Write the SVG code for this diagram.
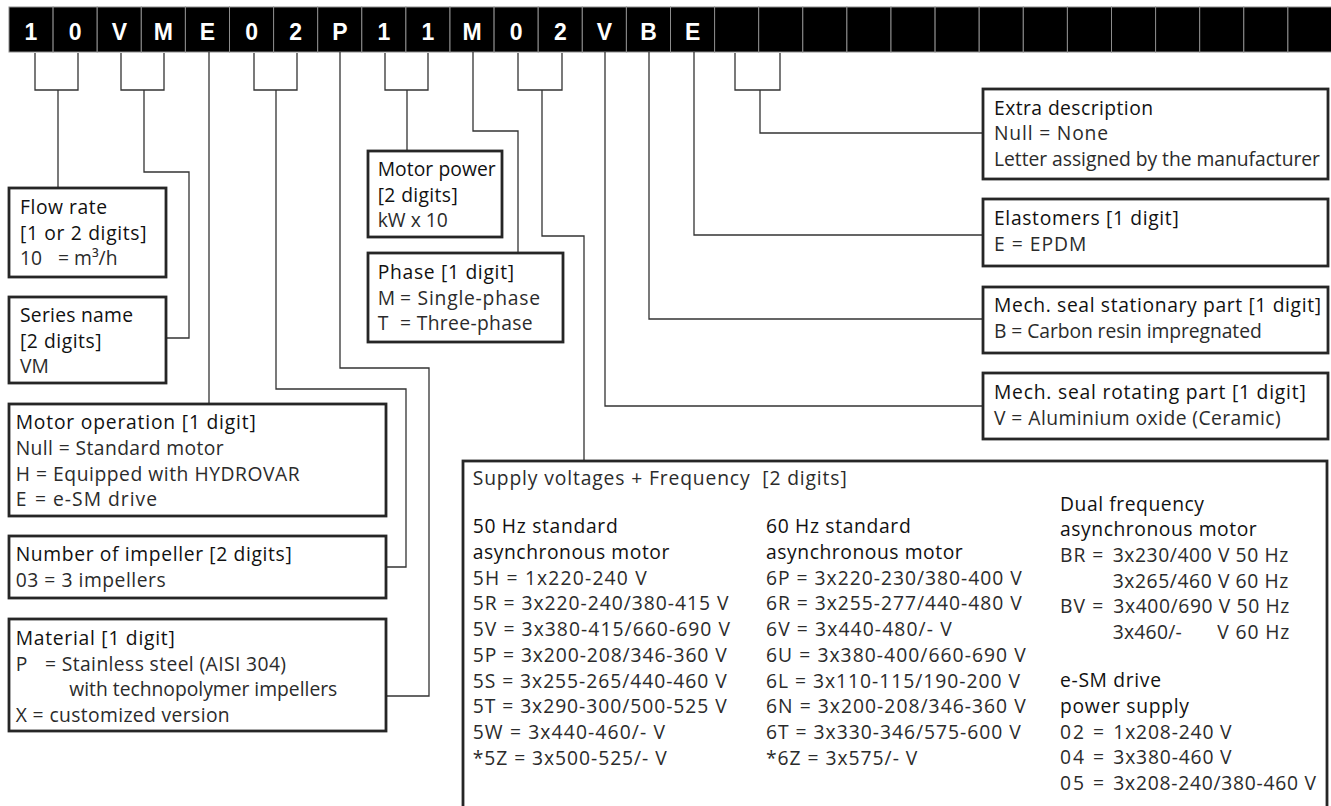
<svg xmlns="http://www.w3.org/2000/svg" width="1331" height="806" viewBox="0 0 1331 806">
<style>
.cell{fill:#000;stroke:#8c8c8c;stroke-width:1}
.ch{font-family:"Liberation Sans",Arial,sans-serif;font-weight:bold;font-size:23px;fill:#fff;text-anchor:middle}
.box{fill:#fff;stroke:#262626;stroke-width:2.8}
.ln{fill:none;stroke:#333;stroke-width:1.3}
.h{font-family:"Open Sans","Noto Sans",sans-serif;font-size:19.3px;fill:#111;font-weight:500}
.c{font-family:"Open Sans","Noto Sans",sans-serif;font-size:19.3px;fill:#2b2b2b;font-weight:400}
</style>
<g id="codebar">
<rect class="cell" x="9" y="7" width="44.1" height="45"/><rect class="cell" x="53.1" y="7" width="44.1" height="45"/><rect class="cell" x="97.2" y="7" width="44.1" height="45"/><rect class="cell" x="141.3" y="7" width="44.1" height="45"/><rect class="cell" x="185.4" y="7" width="44.1" height="45"/><rect class="cell" x="229.5" y="7" width="44.1" height="45"/><rect class="cell" x="273.6" y="7" width="44.1" height="45"/><rect class="cell" x="317.7" y="7" width="44.1" height="45"/><rect class="cell" x="361.8" y="7" width="44.1" height="45"/><rect class="cell" x="405.9" y="7" width="44.1" height="45"/><rect class="cell" x="450" y="7" width="44.1" height="45"/><rect class="cell" x="494.1" y="7" width="44.1" height="45"/><rect class="cell" x="538.2" y="7" width="44.1" height="45"/><rect class="cell" x="582.3" y="7" width="44.1" height="45"/><rect class="cell" x="626.4" y="7" width="44.1" height="45"/><rect class="cell" x="670.5" y="7" width="44.1" height="45"/><rect class="cell" x="714.6" y="7" width="44.1" height="45"/><rect class="cell" x="758.7" y="7" width="44.1" height="45"/><rect class="cell" x="802.8" y="7" width="44.1" height="45"/><rect class="cell" x="846.9" y="7" width="44.1" height="45"/><rect class="cell" x="891" y="7" width="44.1" height="45"/><rect class="cell" x="935.1" y="7" width="44.1" height="45"/><rect class="cell" x="979.2" y="7" width="44.1" height="45"/><rect class="cell" x="1023.3" y="7" width="44.1" height="45"/><rect class="cell" x="1067.4" y="7" width="44.1" height="45"/><rect class="cell" x="1111.5" y="7" width="44.1" height="45"/><rect class="cell" x="1155.6" y="7" width="44.1" height="45"/><rect class="cell" x="1199.7" y="7" width="44.1" height="45"/><rect class="cell" x="1243.8" y="7" width="44.1" height="45"/><rect class="cell" x="1287.9" y="7" width="44.1" height="45"/>
<text class="ch" x="31" y="39.5">1</text><text class="ch" x="75.2" y="39.5">0</text><text class="ch" x="119.3" y="39.5">V</text><text class="ch" x="163.4" y="39.5">M</text><text class="ch" x="207.5" y="39.5">E</text><text class="ch" x="251.6" y="39.5">0</text><text class="ch" x="295.7" y="39.5">2</text><text class="ch" x="339.8" y="39.5">P</text><text class="ch" x="383.9" y="39.5">1</text><text class="ch" x="428" y="39.5">1</text><text class="ch" x="472.1" y="39.5">M</text><text class="ch" x="516.2" y="39.5">0</text><text class="ch" x="560.3" y="39.5">2</text><text class="ch" x="604.4" y="39.5">V</text><text class="ch" x="648.5" y="39.5">B</text><text class="ch" x="692.6" y="39.5">E</text>
</g>
<g id="connectors">
<path class="ln" d="M35,53V90H78V53M58,90V188"/>
<path class="ln" d="M121,53V90H164V53M144,90V172H189V338H166"/>
<path class="ln" d="M209,52V404"/>
<path class="ln" d="M254,53V90H297V53M276,90V389H406V567H386"/>
<path class="ln" d="M340,52V368H429V696H386"/>
<path class="ln" d="M385,53V90H428V53M407,90V151"/>
<path class="ln" d="M473,52V131H518V253"/>
<path class="ln" d="M518,53V90H562V53M542,90V236H584V461"/>
<path class="ln" d="M605,52V406H983"/>
<path class="ln" d="M649,52V319H983"/>
<path class="ln" d="M694,52V235H983"/>
<path class="ln" d="M735,53V90H780V53M760,90V133H983"/>
</g>
<g id="flow-rate">
<rect class="box" x="9" y="188" width="157" height="89"/>
<text class="h" x="20" y="214" textLength="87" lengthAdjust="spacing">Flow rate</text>
<text class="h" x="20" y="240" textLength="126.5" lengthAdjust="spacing">[1 or 2 digits]</text>
<text class="c" x="20" y="265">10</text>
<text class="c" x="58" y="265">= m³/h</text>
</g>
<g id="series-name">
<rect class="box" x="9" y="297" width="157" height="86"/>
<text class="h" x="20" y="322" textLength="113" lengthAdjust="spacing">Series name</text>
<text class="h" x="20" y="348" textLength="81.5" lengthAdjust="spacing">[2 digits]</text>
<text class="c" x="20" y="373">VM</text>
</g>
<g id="motor-operation">
<rect class="box" x="9" y="404" width="377" height="112"/>
<text class="h" x="15.7" y="429" textLength="240" lengthAdjust="spacing">Motor operation [1 digit]</text>
<text class="c" x="15.7" y="455" textLength="208" lengthAdjust="spacing">Null = Standard motor</text>
<text class="c" x="15.7" y="480.5" textLength="284" lengthAdjust="spacing">H = Equipped with HYDROVAR</text>
<text class="c" x="15.7" y="506">E</text>
<text class="c" x="35" y="506" textLength="122" lengthAdjust="spacing">= e-SM drive</text>
</g>
<g id="impellers">
<rect class="box" x="9" y="536" width="377" height="62"/>
<text class="h" x="15.7" y="561" textLength="276" lengthAdjust="spacing">Number of impeller [2 digits]</text>
<text class="c" x="15.7" y="586.5" textLength="150" lengthAdjust="spacing">03 = 3 impellers</text>
</g>
<g id="material">
<rect class="box" x="9" y="619" width="377" height="112"/>
<text class="h" x="15.7" y="645" textLength="159" lengthAdjust="spacing">Material [1 digit]</text>
<text class="c" x="15.7" y="670.5">P</text>
<text class="c" x="45" y="670.5" textLength="241" lengthAdjust="spacing">= Stainless steel (AISI 304)</text>
<text class="c" x="69.3" y="696" textLength="268" lengthAdjust="spacing">with technopolymer impellers</text>
<text class="c" x="15.7" y="721.5" textLength="214" lengthAdjust="spacing">X = customized version</text>
</g>
<g id="motor-power">
<rect class="box" x="368" y="151" width="134" height="86"/>
<text class="h" x="377.7" y="176" textLength="118" lengthAdjust="spacing">Motor power</text>
<text class="h" x="377.7" y="201.5" textLength="80" lengthAdjust="spacing">[2 digits]</text>
<text class="c" x="377.7" y="227">kW x 10</text>
</g>
<g id="phase">
<rect class="box" x="368" y="253" width="195" height="89"/>
<text class="h" x="377.7" y="279" textLength="136.3" lengthAdjust="spacing">Phase [1 digit]</text>
<text class="c" x="377.7" y="304.5">M</text>
<text class="c" x="400" y="304.5" textLength="140" lengthAdjust="spacing">= Single-phase</text>
<text class="c" x="377.7" y="330">T</text>
<text class="c" x="400" y="330" textLength="132.7" lengthAdjust="spacing">= Three-phase</text>
</g>
<g id="extra-description">
<rect class="box" x="983" y="89" width="345" height="90"/>
<text class="h" x="994" y="114.5" textLength="159" lengthAdjust="spacing">Extra description</text>
<text class="c" x="994" y="140" textLength="114" lengthAdjust="spacing">Null = None</text>
<text class="c" x="994" y="165.5" textLength="326" lengthAdjust="spacing">Letter assigned by the manufacturer</text>
</g>
<g id="elastomers">
<rect class="box" x="983" y="199" width="345" height="67"/>
<text class="h" x="994" y="225" textLength="184.7" lengthAdjust="spacing">Elastomers [1 digit]</text>
<text class="c" x="994" y="250.5" textLength="92.3" lengthAdjust="spacing">E = EPDM</text>
</g>
<g id="seal-stationary">
<rect class="box" x="983" y="287" width="345" height="66"/>
<text class="h" x="994" y="312" textLength="327" lengthAdjust="spacing">Mech. seal stationary part [1 digit]</text>
<text class="c" x="994" y="337.5" textLength="267.7" lengthAdjust="spacing">B = Carbon resin impregnated</text>
</g>
<g id="seal-rotating">
<rect class="box" x="983" y="373" width="345" height="66"/>
<text class="h" x="994" y="399" textLength="311.7" lengthAdjust="spacing">Mech. seal rotating part [1 digit]</text>
<text class="c" x="994" y="424.5" textLength="286.7" lengthAdjust="spacing">V = Aluminium oxide (Ceramic)</text>
</g>
<g id="supply">
<rect class="box" x="463" y="461" width="864" height="370"/>
<text class="c" x="472.7" y="485" xml:space="preserve" textLength="374" lengthAdjust="spacing">Supply voltages + Frequency  [2 digits]</text>
<text class="h" x="472.7" y="533.3" textLength="145" lengthAdjust="spacing">50 Hz standard</text>
<text class="h" x="472.7" y="559" textLength="196.7" lengthAdjust="spacing">asynchronous motor</text>
<text class="c" x="472.7" y="584.7" textLength="174" lengthAdjust="spacing">5H = 1x220-240 V</text>
<text class="c" x="472.7" y="610.4" textLength="255.7" lengthAdjust="spacing">5R = 3x220-240/380-415 V</text>
<text class="c" x="472.7" y="636" textLength="257.3" lengthAdjust="spacing">5V = 3x380-415/660-690 V</text>
<text class="c" x="472.7" y="661.8" textLength="254" lengthAdjust="spacing">5P = 3x200-208/346-360 V</text>
<text class="c" x="472.7" y="687.5" textLength="254" lengthAdjust="spacing">5S = 3x255-265/440-460 V</text>
<text class="c" x="472.7" y="713.2" textLength="254" lengthAdjust="spacing">5T = 3x290-300/500-525 V</text>
<text class="c" x="472.7" y="738.9" textLength="192.3" lengthAdjust="spacing">5W = 3x440-460/- V</text>
<text class="c" x="472.7" y="764.6" textLength="194" lengthAdjust="spacing">*5Z = 3x500-525/- V</text>
<text class="h" x="766" y="533.3" textLength="144.7" lengthAdjust="spacing">60 Hz standard</text>
<text class="h" x="766" y="559" textLength="196.7" lengthAdjust="spacing">asynchronous motor</text>
<text class="c" x="766" y="584.7" textLength="255.7" lengthAdjust="spacing">6P = 3x220-230/380-400 V</text>
<text class="c" x="766" y="610.4" textLength="255.7" lengthAdjust="spacing">6R = 3x255-277/440-480 V</text>
<text class="c" x="766" y="636" textLength="185.7" lengthAdjust="spacing">6V = 3x440-480/- V</text>
<text class="c" x="766" y="661.8" textLength="259.7" lengthAdjust="spacing">6U = 3x380-400/660-690 V</text>
<text class="c" x="766" y="687.5" textLength="254" lengthAdjust="spacing">6L = 3x110-115/190-200 V</text>
<text class="c" x="766" y="713.2" textLength="259.7" lengthAdjust="spacing">6N = 3x200-208/346-360 V</text>
<text class="c" x="766" y="738.9" textLength="254.7" lengthAdjust="spacing">6T = 3x330-346/575-600 V</text>
<text class="c" x="766" y="764.6" textLength="151.3" lengthAdjust="spacing">*6Z = 3x575/- V</text>
<text class="h" x="1060" y="510.7" textLength="144" lengthAdjust="spacing">Dual frequency</text>
<text class="h" x="1060" y="536.3" textLength="196.7" lengthAdjust="spacing">asynchronous motor</text>
<text class="c" x="1060" y="562" textLength="43.3" lengthAdjust="spacing">BR =</text>
<text class="c" x="1112.7" y="562" textLength="175.6" lengthAdjust="spacing">3x230/400 V 50 Hz</text>
<text class="c" x="1112.7" y="587.6" textLength="175.6" lengthAdjust="spacing">3x265/460 V 60 Hz</text>
<text class="c" x="1060" y="613.2" textLength="43.3" lengthAdjust="spacing">BV =</text>
<text class="c" x="1113.3" y="613.2" textLength="176" lengthAdjust="spacing">3x400/690 V 50 Hz</text>
<text class="c" x="1112.7" y="638.8" textLength="69" lengthAdjust="spacing">3x460/-</text>
<text class="c" x="1217.3" y="638.8" textLength="72" lengthAdjust="spacing">V 60 Hz</text>
<text class="h" x="1060" y="687.3" textLength="101" lengthAdjust="spacing">e-SM drive</text>
<text class="h" x="1060" y="712.9" textLength="129" lengthAdjust="spacing">power supply</text>
<text class="c" x="1060" y="738.5" textLength="44" lengthAdjust="spacing">02 =</text>
<text class="c" x="1113.3" y="738.5" textLength="118.3" lengthAdjust="spacing">1x208-240 V</text>
<text class="c" x="1060" y="764.1" textLength="44" lengthAdjust="spacing">04 =</text>
<text class="c" x="1113.3" y="764.1" textLength="118.3" lengthAdjust="spacing">3x380-460 V</text>
<text class="c" x="1060" y="789.7" textLength="44" lengthAdjust="spacing">05 =</text>
<text class="c" x="1113.3" y="789.7" textLength="202.7" lengthAdjust="spacing">3x208-240/380-460 V</text>
</g>
</svg>
